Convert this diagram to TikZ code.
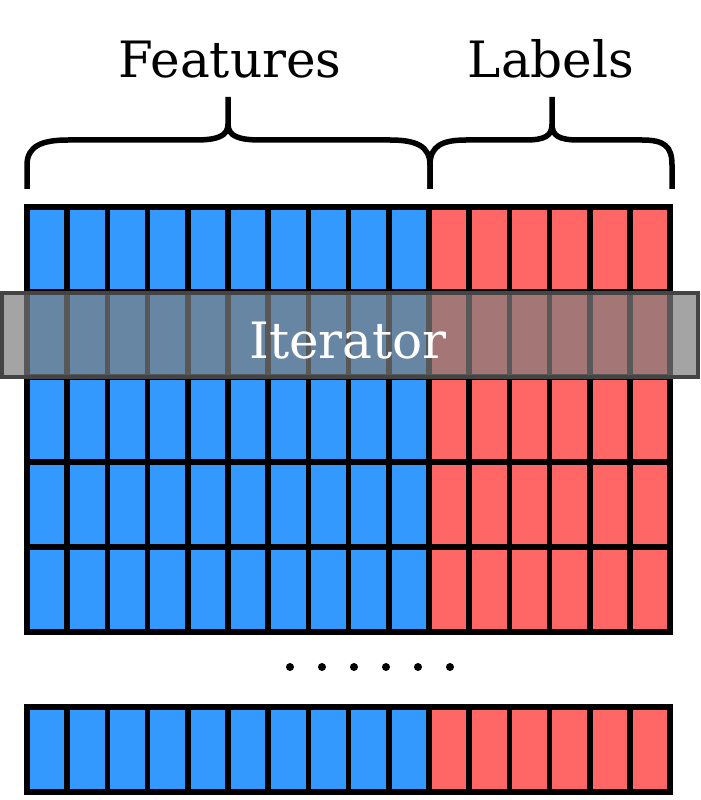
\documentclass[tikz,border=0pt]{standalone}
\usepackage{fontspec}
\setmainfont{DejaVu Serif}
\definecolor{cblue}{HTML}{3399FF}
\definecolor{cred}{HTML}{FF6666}
\definecolor{bandfill}{RGB}{126,126,126}
\definecolor{bandline}{RGB}{68,68,68}
\begin{document}
\begin{tikzpicture}[x=0.02cm,y=-0.02cm,
  cell/.style={draw=black,line width=0.11cm},
  bracestyle/.style={draw=black,line width=0.11cm,line cap=butt,line join=round},
  title/.style={font=\fontsize{28.5}{33}\selectfont,anchor=base,inner sep=0pt},
  band/.style={fill=bandfill,fill opacity=0.7,draw=bandline,line width=0.08cm},
  dotstyle/.style={fill=black,draw=none}]
\useasboundingbox (0,0) rectangle (700,800);
% grid rows
\foreach \top in {207,292,377,462,547,707}{
  \foreach \c in {0,...,15}{
    \pgfmathsetmacro{\xa}{27+40.2*\c}
    \pgfmathsetmacro{\xb}{27+40.2*(\c+1)}
    \ifnum\c<10
      \fill[cblue] (\xa,\top) rectangle (\xb,\top+85);
    \else
      \fill[cred] (\xa,\top) rectangle (\xb,\top+85);
    \fi
  }
}
\foreach \top in {207,292,377,462,547,707}{
  \foreach \c in {0,...,15}{
    \pgfmathsetmacro{\xa}{27+40.2*\c}
    \pgfmathsetmacro{\xb}{27+40.2*(\c+1)}
    \draw[cell] (\xa,\top) rectangle (\xb,\top+85);
  }
}
% braces
\draw[bracestyle] (27,189) -- (27,165) .. controls (27,146) and (42,140) .. (68,140)
  -- (195,140) .. controls (218,140) and (228,136) .. (228,124) -- (228,97);
\draw[bracestyle] (228,124) .. controls (228,136) and (238,140) .. (261,140)
  -- (390,140) .. controls (416,140) and (430,146) .. (430,165) -- (430,189);
\draw[bracestyle] (430,189) -- (430,165) .. controls (430,146) and (442,140) .. (466,140)
  -- (525,140) .. controls (545,140) and (552,136) .. (552,124) -- (552,97);
\draw[bracestyle] (552,124) .. controls (552,136) and (559,140) .. (579,140)
  -- (642,140) .. controls (664,140) and (672,146) .. (672,165) -- (672,189);
% titles
\node[title] (features) at (230,78) {Features};
\node[title] (labels) at (551,78) {Labels};
% band
\draw[band] (2,293) rectangle (698,377);
\node[title,text=white] (iterator) at (348,358) {Iterator};
% dots
\foreach \i in {0,...,5}{
  \fill[dotstyle] (290+32*\i,667) circle (4);
}
\end{tikzpicture}
\end{document}
